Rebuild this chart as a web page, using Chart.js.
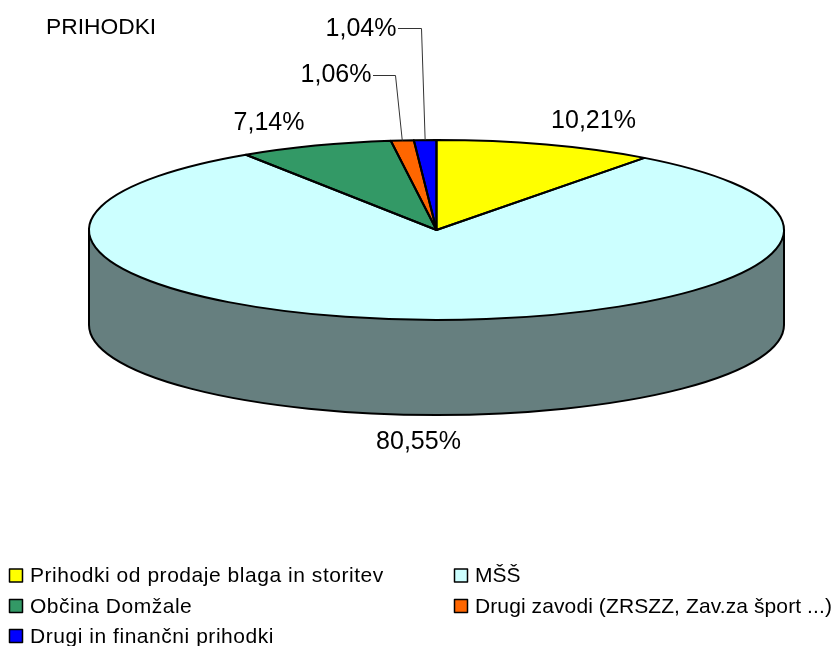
<!DOCTYPE html>
<html>
<head>
<meta charset="utf-8">
<style>html,body{margin:0;padding:0;background:#fff}#w{position:relative;width:834px;height:646px}</style>
<script src="https://cdn.jsdelivr.net/npm/chart.js@4/dist/chart.umd.min.js"></script>
</head>
<body>
<div id="w"><canvas id="c" width="834" height="646"></canvas></div>
<script>
const chartTitle = 'PRIHODKI';
const categories = ['Prihodki od prodaje blaga in storitev', 'MŠŠ', 'Občina Domžale', 'Drugi zavodi (ZRSZZ, Zav.za šport ...)', 'Drugi in finančni prihodki'];
const values = [10.21, 80.55, 7.14, 1.06, 1.04];
const colors = ['#ffff00', '#ccffff', '#339966', '#ff6600', '#0000ff'];
const wallColor = '#667f7f';

// layout only
const FONT = '"Liberation Sans", Arial, sans-serif';
const rimRx = 347.5, rimRy = 90, depth = 95;
const labelPos = [[593.5, 121], [418.5, 442], [269, 123], [336, 75.5], [361, 29]];
const leaders = {3: [[373, 75], [395, 75]], 4: [[398, 28], [421, 28]]};
const legendPos = [[9, 575.5], [454, 575.5], [9, 606], [454, 606], [9, 636]];
const legendSpacing = ['0.54px', '0px', '0.5px', '0.1px', '0.54px'];

const fake3d = {
  id: 'fake3d',
  beforeDatasetsDraw(chart) {
    const ctx = chart.ctx, arc = chart.getDatasetMeta(0).data[0];
    const cx = arc.x, cy = arc.y;
    ctx.save();
    ctx.beginPath();
    ctx.moveTo(cx + rimRx, cy);
    ctx.lineTo(cx + rimRx, cy + depth);
    ctx.ellipse(cx, cy + depth, rimRx, rimRy, 0, 0, Math.PI);
    ctx.lineTo(cx - rimRx, cy);
    ctx.closePath();
    ctx.fillStyle = wallColor;
    ctx.fill();
    ctx.lineWidth = 2;
    ctx.strokeStyle = '#000';
    ctx.stroke();
    ctx.restore();
    ctx.save();
    ctx.translate(cx, cy);
    ctx.scale(rimRx / arc.outerRadius, rimRy / arc.outerRadius);
    ctx.translate(-cx, -cy);
  },
  afterDatasetsDraw(chart) {
    const ctx = chart.ctx, arcs = chart.getDatasetMeta(0).data;
    ctx.restore();
    ctx.save();
    ctx.lineWidth = 2;
    ctx.strokeStyle = '#000';
    ctx.lineJoin = 'round';
    arcs.forEach(a => {
      ctx.beginPath();
      ctx.moveTo(a.x, a.y);
      ctx.ellipse(a.x, a.y, rimRx, rimRy, 0, a.startAngle, a.endAngle);
      ctx.closePath();
      ctx.stroke();
    });
    // leader lines, ending on the rim at each slice's middle angle
    ctx.lineWidth = 1;
    ctx.strokeStyle = '#333';
    Object.keys(leaders).forEach(k => {
      const a = arcs[k], mid = (a.startAngle + a.endAngle) / 2;
      ctx.beginPath();
      leaders[k].forEach((p, i) => i ? ctx.lineTo(p[0] + .5, p[1] + .5) : ctx.moveTo(p[0], p[1] + .5));
      ctx.lineTo(a.x + rimRx * Math.cos(mid), a.y + rimRy * Math.sin(mid));
      ctx.stroke();
    });
    // value labels
    ctx.fillStyle = '#000';
    ctx.font = '25px ' + FONT;
    ctx.textAlign = 'center';
    ctx.textBaseline = 'middle';
    values.forEach((v, i) => ctx.fillText(v.toFixed(2).replace('.', ',') + '%', labelPos[i][0], labelPos[i][1]));
    // title
    ctx.textAlign = 'left';
    ctx.font = '22.8px ' + FONT;
    ctx.fillText(chartTitle, 46, 28);
    // legend
    ctx.font = '21px ' + FONT;
    categories.forEach((c, i) => {
      const [x, y] = legendPos[i];
      ctx.fillStyle = colors[i];
      ctx.fillRect(x + .5, y - 6.5, 13, 13);
      ctx.lineWidth = 1.5;
      ctx.strokeStyle = '#000';
      ctx.strokeRect(x + .5, y - 6.5, 13, 13);
      ctx.fillStyle = '#000';
      ctx.letterSpacing = legendSpacing[i];
      ctx.fillText(c, x + 21, y + 1);
      ctx.letterSpacing = '0px';
    });
    ctx.restore();
  }
};

new Chart(document.getElementById('c'), {
  type: 'pie',
  data: { labels: categories, datasets: [{ data: values, backgroundColor: colors, borderWidth: 0 }] },
  options: {
    responsive: false,
    animation: false,
    layout: { padding: { left: 206.5, right: 167.5, top: 0, bottom: 186 } },
    plugins: { legend: { display: false }, tooltip: { enabled: false }, title: { display: false } }
  },
  plugins: [fake3d]
});
</script>
</body>
</html>
